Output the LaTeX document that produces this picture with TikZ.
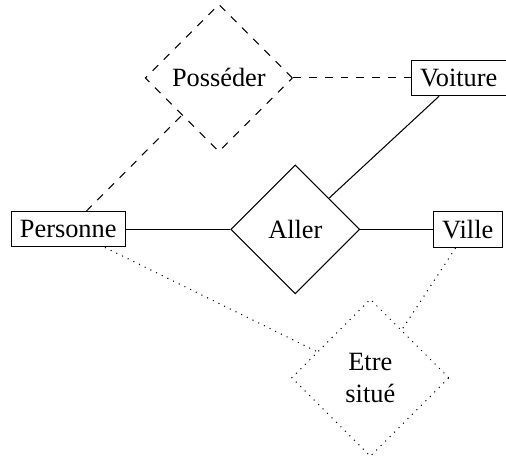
\documentclass[tikz,border=0pt]{standalone}
\usepackage{fontspec}
\setmainfont{Liberation Serif}
\usetikzlibrary{shapes.geometric}

\begin{document}
\begin{tikzpicture}[entity/.style={draw, rectangle},
  relation/.style={draw, diamond, minimum size=1.72cm}]
\useasboundingbox (0,0) rectangle (6.75,-6.18);
\path 
(0.91,-3.06) node[entity] (ent-personne) {Personne}
(3.94,-3.06) node[relation] (rel-aller) {Aller}
(6.24,-3.06) node[entity] (ent-ville) {Ville}
(6.12,-1.04) node[entity] (ent-voiture) {Voiture}
(2.92,-1.04) node[relation, dashed, minimum size=1.9cm] (rel-posseder) {Posséder}
(4.94,-5.04) node[relation, dotted, minimum size=2.1cm, align=center] (rel-situe) {Etre\\situé};

\draw (ent-personne) -- (rel-aller);
\draw (rel-aller) -- (ent-ville);
\draw (rel-aller) -- (ent-voiture);
\draw[dashed] (ent-personne) -- (rel-posseder);
\draw[dashed] (rel-posseder) -- (ent-voiture);
\draw[dotted] (ent-personne) -- (rel-situe);
\draw[dotted] (ent-ville) -- (rel-situe);
\end{tikzpicture}
\end{document}
